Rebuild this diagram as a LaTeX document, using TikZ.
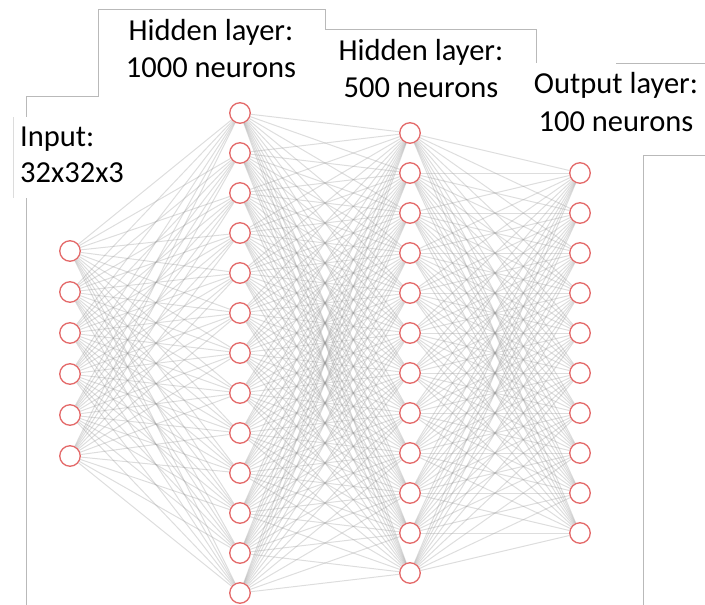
\documentclass[tikz,border=0pt]{standalone}
\usepackage{fontspec}
\setmainfont{Carlito}
\definecolor{neuron}{RGB}{228,105,105}
\definecolor{edge}{RGB}{150,150,150}
\definecolor{frame}{RGB}{185,185,185}
\begin{document}
\begin{tikzpicture}[x=1pt,y=-1pt,
  neuronnode/.style={circle,draw=neuron,fill=white,line width=1.3pt,minimum size=20.5pt,inner sep=0pt},
  conn/.style={draw=edge,line width=1pt,opacity=0.32},
  framerule/.style={draw=frame,line width=0.9pt},
  labeltext/.style={inner sep=0pt,font=\fontsize{30.5}{36}\selectfont}]
\useasboundingbox (0,0) rectangle (705,605);
% frame lines of the slide boxes
\draw[framerule] (26,605) -- (26,96) -- (98,96) -- (98,9.5) -- (325,9.5) -- (325,29) -- (536,29) -- (536,63);
\draw[framerule] (616,63) -- (705,63);
\draw[framerule] (643,605) -- (643,155) -- (705,155);
\fill[white] (13,117) rectangle (120,198);
\draw[draw=frame!50,line width=0.8pt] (13,117) -- (13,198);
% neurons
\foreach \i in {1,...,6} \node[neuronnode] (a\i) at (70,{251+41*(\i-1)}) {};
\foreach \i in {1,...,13} \node[neuronnode] (b\i) at (240,{113+40*(\i-1)}) {};
\foreach \i in {1,...,12} \node[neuronnode] (c\i) at (410,{133+40*(\i-1)}) {};
\foreach \i in {1,...,10} \node[neuronnode] (d\i) at (580,{173+40*(\i-1)}) {};
% connections
\foreach \i in {1,...,6} \foreach \j in {1,...,13} \draw[conn] (a\i) -- (b\j);
\foreach \i in {1,...,13} \foreach \j in {1,...,12} \draw[conn] (b\i) -- (c\j);
\foreach \i in {1,...,12} \foreach \j in {1,...,10} \draw[conn] (c\i) -- (d\j);
% labels
\node[labeltext,anchor=base] (h1a) at (211,40) {Hidden layer:};
\node[labeltext,anchor=base] (h1b) at (211,77) {1000 neurons};
\node[labeltext,anchor=base] (h2a) at (421,60) {Hidden layer:};
\node[labeltext,anchor=base] (h2b) at (421,97) {500 neurons};
\node[labeltext,anchor=base] (oa) at (616,93) {Output layer:};
\node[labeltext,anchor=base] (ob) at (616,131) {100 neurons};
\node[labeltext,anchor=base west] (ia) at (20,146) {Input:};
\node[labeltext,anchor=base west] (ib) at (20,182) {32x32x3};
\end{tikzpicture}
\end{document}
